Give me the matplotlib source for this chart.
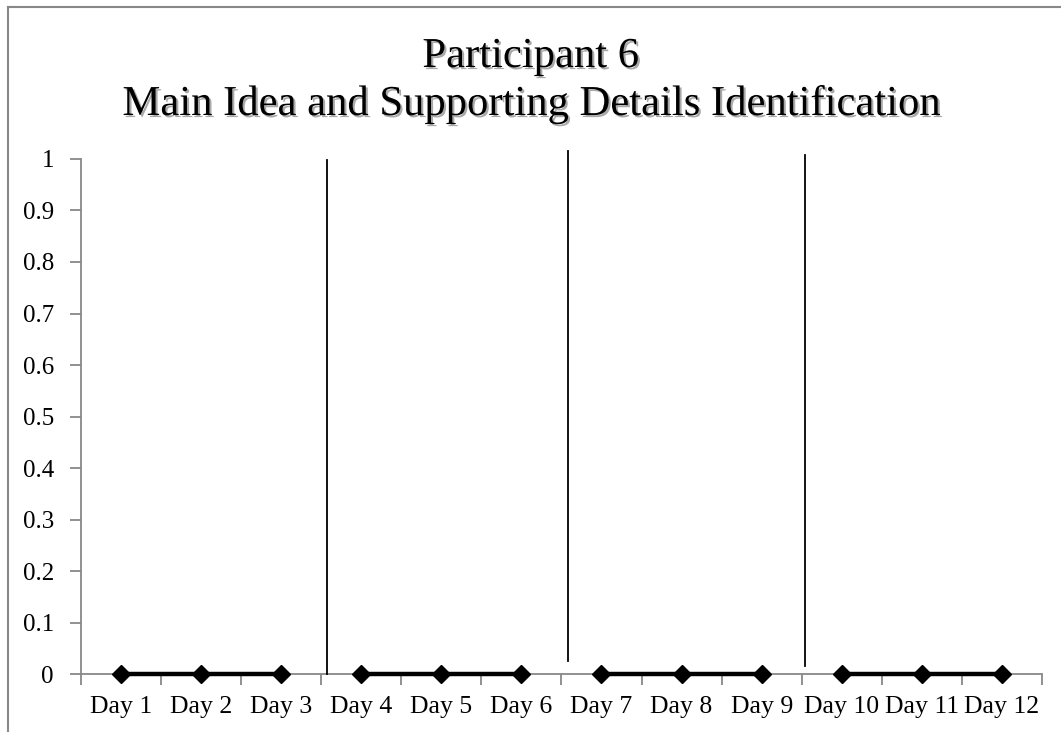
import matplotlib
matplotlib.use('Agg')
import matplotlib.pyplot as plt
import matplotlib.patheffects as pe
from matplotlib.lines import Line2D

plt.rcParams['font.family'] = ['Liberation Serif', 'DejaVu Serif']

# data
days = ['Day 1', 'Day 2', 'Day 3', 'Day 4', 'Day 5', 'Day 6',
        'Day 7', 'Day 8', 'Day 9', 'Day 10', 'Day 11', 'Day 12']
scores = [0, 0, 0, 0, 0, 0, 0, 0, 0, 0, 0, 0]
phases = [(0, 3), (3, 6), (6, 9), (9, 12)]  # index ranges of connected segments
# phase change lines (x in category units, y bottom/top)
phase_x = [2.57, 5.58, 8.54]
phase_y0 = [0.0, 0.025, 0.016]
phase_y1 = [0.998, 1.016, 1.008]
yticks = [0, 0.1, 0.2, 0.3, 0.4, 0.5, 0.6, 0.7, 0.8, 0.9, 1]

fig = plt.figure(figsize=(10.61, 7.32), dpi=100)
ax = fig.add_axes([0.0763, 0.0792, 0.9057, 0.7036])

x = list(range(len(days)))
for a, b in phases:
    ax.plot(x[a:b], scores[a:b], color='black', lw=3.2, marker='D',
            markersize=9.5, clip_on=False, zorder=5)

for px, y0, y1 in zip(phase_x, phase_y0, phase_y1):
    ax.plot([px, px], [y0, y1], color='black', lw=1.3, clip_on=False, zorder=4)

ax.set_xlim(-0.5, 11.5)
ax.set_ylim(0, 1)
ax.set_yticks(yticks)
ax.set_yticklabels(['0' if v == 0 else ('1' if v == 1 else f'{v:g}') for v in yticks])
ax.set_xticks([i + 0.5 for i in range(-1, 12)])
ax.set_xticklabels([])
ax.set_xticks(x, minor=True)
ax.set_xticklabels(days, minor=True)
ax.tick_params(axis='x', which='minor', length=0, labelsize=18.5, pad=16)
ax.tick_params(axis='x', which='major', length=8, color='#888888', width=1.3, direction='out')
ax.tick_params(axis='y', length=8, color='#888888', width=1.3, labelsize=18, pad=11.5)

for s in ['top', 'right']:
    ax.spines[s].set_visible(False)
for s in ['left', 'bottom']:
    ax.spines[s].set_color('#888888')
    ax.spines[s].set_linewidth(1.3)

shadow = [pe.withSimplePatchShadow(offset=(1.5, -1.5), shadow_rgbFace='#555555', alpha=0.5)]
fig.text(0.5, 1 - 67 / 732, 'Participant 6', ha='center', va='baseline', fontsize=30.7,
         path_effects=shadow)
fig.text(0.5, 1 - 115 / 732, 'Main Idea and Supporting Details Identification', ha='center',
         va='baseline', fontsize=30.7, path_effects=shadow)

# outer chart border (only left and top visible in crop)
fig.add_artist(Line2D([8 / 1061, 8 / 1061], [0, 1 - 7 / 732], color='#888888', lw=1.5,
                      transform=fig.transFigure))
fig.add_artist(Line2D([8 / 1061, 1], [1 - 7 / 732, 1 - 7 / 732], color='#888888', lw=1.5,
                      transform=fig.transFigure))

fig.savefig('out.png', dpi=100)
